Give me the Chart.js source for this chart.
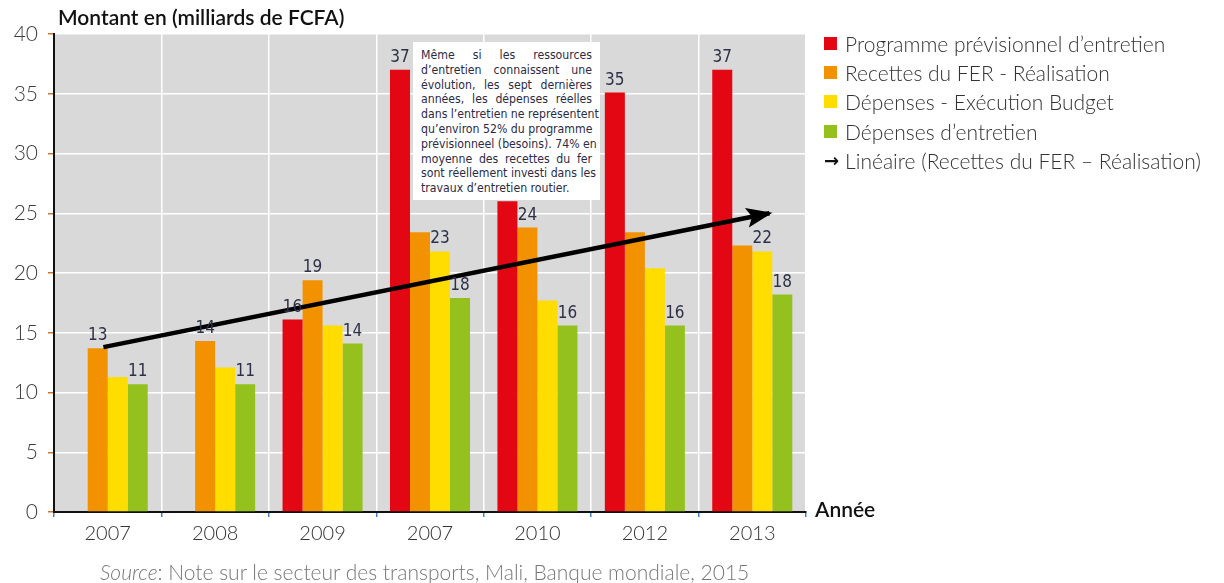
<!DOCTYPE html>
<html>
<head>
<meta charset="utf-8">
<script src="https://cdn.jsdelivr.net/npm/chart.js@4.4.1/dist/chart.umd.min.js"></script>
<style>
  html, body { margin: 0; padding: 0; background: #fff; }
  #wrap { position: relative; width: 1224px; height: 583px; font-family: Lato, sans-serif; }
  #c { position: absolute; left: 0; top: 0; }
  .txt { position: absolute; white-space: nowrap; line-height: 1; }
  #title { left: 58px; top: 6px; font-size: 21px; font-weight: 600; color: #111; }
  #annee { left: 815px; top: 498px; font-size: 21px; font-weight: 600; color: #111; }
  #source { left: 100px; top: 561px; font-size: 21px; font-weight: 300; color: #777; }
  #legend { position: absolute; left: 824px; top: 29px; font-size: 21px; font-weight: 300; color: #333; }
  #legend .row { height: 29.2px; display: flex; align-items: center; white-space: nowrap; }
  #legend .sw { width: 13px; height: 13px; margin-right: 8px; }
  #legend .arr { font-family: "DejaVu Sans", sans-serif; font-weight: bold; font-size: 18px; color: #111; margin-right: 6px; }
  #note { position: absolute; left: 413px; top: 42px; width: 171px; height: 150px; padding: 6px 8px 2px 8px;
          background: #fff; font-family: "Liberation Sans Narrow", "DejaVu Sans Condensed", sans-serif;
          font-size: 12.2px; line-height: 14.8px; color: #2b2b45; }
  #note div { text-align: justify; text-align-last: justify; white-space: nowrap; }
  #note div.last { text-align-last: left; }
</style>
</head>
<body>
<div id="wrap">
  <canvas id="c" width="1224" height="583"></canvas>
  <div class="txt" id="title">Montant en (milliards de FCFA)</div>
  <div class="txt" id="annee">Année</div>
  <div class="txt" id="source"><i>Source</i>: Note sur le secteur des transports, Mali, Banque mondiale, 2015</div>
  <div id="legend"></div>
  <div id="note">
    <div>Même si les ressources</div>
    <div>d’entretien connaissent une</div>
    <div>évolution, les sept dernières</div>
    <div>années, les dépenses réelles</div>
    <div>dans l’entretien ne représentent</div>
    <div>qu’environ 52% du programme</div>
    <div>prévisionneel (besoins). 74% en</div>
    <div>moyenne des recettes du fer</div>
    <div>sont réellement investi dans les</div>
    <div class="last">travaux d’entretien routier.</div>
  </div>
</div>
<script>
"use strict";

// categories (as printed on the source chart)
var years = ["2007", "2008", "2009", "2007", "2010", "2012", "2013"];

// series values, milliards de FCFA
var programme = [null, null, 16.1, 37.0, 26.0, 35.1, 37.0];
var recettes  = [13.7, 14.3, 19.4, 23.4, 23.8, 23.4, 22.3];
var depBudget = [11.3, 12.1, 15.6, 21.8, 17.7, 20.4, 21.8];
var depEntret = [10.7, 10.7, 14.1, 17.9, 15.6, 15.6, 18.2];

// value labels printed above bars
var lblProgramme = [null, null, "16", "37", null, "35", "37"];
var lblRecettes  = ["13", "14", "19", null, "24", null, null];
var lblBudget    = [null, null, null, "23", null, null, "22"];
var lblEntret    = ["11", "11", "14", "18", "16", "16", "18"];

// trend arrow endpoints (category index, value)
var trendX = [-0.04, 6.16];
var trendY = [13.8, 25.0];

var yTicks = [0, 5, 10, 15, 20, 25, 30, 35, 40];

var seriesNames = [
    "Programme prévisionnel d’entretien",
    "Recettes du FER - Réalisation",
    "Dépenses - Exécution Budget",
    "Dépenses d’entretien"
];
var trendName = "Linéaire (Recettes du FER – Réalisation)";
var colors = ["#e30613", "#f39200", "#ffdd00", "#95c11f"];

// html legend
var legend = document.getElementById("legend");
seriesNames.forEach(function (name, i) {
    var row = document.createElement("div");
    row.className = "row";
    row.innerHTML = '<span class="sw" style="background:' + colors[i] + '"></span><span>' + name + '</span>';
    legend.appendChild(row);
});
var trow = document.createElement("div");
trow.className = "row";
trow.innerHTML = '<span class="arr">→</span><span>' + trendName + '</span>';
legend.appendChild(trow);

var allLabels = [lblProgramme, lblRecettes, lblBudget, lblEntret];

var plotBg = {
    id: "plotBg",
    beforeDraw: function (chart) {
        var a = chart.chartArea, ctx = chart.ctx;
        ctx.save();
        ctx.fillStyle = "#d9d9d9";
        ctx.fillRect(a.left, a.top, a.right - a.left, a.bottom - a.top);
        ctx.restore();
    }
};

var barLabels = {
    id: "barLabels",
    afterDatasetsDraw: function (chart) {
        var ctx = chart.ctx;
        ctx.save();
        ctx.font = '17px "Liberation Sans Narrow", "DejaVu Sans Condensed", sans-serif';
        ctx.fillStyle = "#2d3047";
        ctx.textAlign = "center";
        ctx.textBaseline = "alphabetic";
        allLabels.forEach(function (lbls, di) {
            var meta = chart.getDatasetMeta(di);
            lbls.forEach(function (t, i) {
                if (!t) return;
                var el = meta.data[i];
                ctx.fillText(t, el.x, el.y - 8);
            });
        });
        ctx.restore();
    }
};

var arrowHead = {
    id: "arrowHead",
    afterDatasetsDraw: function (chart) {
        var meta = chart.getDatasetMeta(4);
        var p0 = meta.data[0], p1 = meta.data[meta.data.length - 1];
        var ang = Math.atan2(p1.y - p0.y, p1.x - p0.x);
        var len = 26, half = 10;
        var tx = p1.x + 3 * Math.cos(ang), ty = p1.y + 3 * Math.sin(ang);
        var ctx = chart.ctx;
        ctx.save();
        ctx.translate(tx, ty);
        ctx.rotate(ang);
        ctx.beginPath();
        ctx.moveTo(0, 0);
        ctx.lineTo(-len, -half);
        ctx.lineTo(-len * 0.8, 0);
        ctx.lineTo(-len, half);
        ctx.closePath();
        ctx.fillStyle = "#000";
        ctx.fill();
        ctx.restore();
    }
};

var barSets = [programme, recettes, depBudget, depEntret].map(function (vals, i) {
    return {
        type: "bar",
        label: seriesNames[i],
        data: vals,
        backgroundColor: colors[i],
        borderWidth: 0,
        barPercentage: 1,
        categoryPercentage: 0.745,
        order: 2
    };
});

// trend line sits on the category axis itself (fractional index, parsing off)
var trendSet = {
    type: "line",
    label: trendName,
    parsing: false,
    data: trendX.map(function (x, i) { return { x: x, y: trendY[i] }; }),
    borderColor: "#000",
    borderWidth: 4.5,
    pointRadius: 0,
    fill: false,
    tension: 0,
    order: 0
};

new Chart(document.getElementById("c"), {
    type: "bar",
    data: { labels: years, datasets: barSets.concat([trendSet]) },
    options: {
        responsive: false,
        animation: false,
        layout: { padding: { left: 0, top: 34, right: 418, bottom: 0 } },
        plugins: { legend: { display: false }, tooltip: { enabled: false } },
        scales: {
            x: {
                type: "category",
                afterFit: function (s) { s.height = 71; },
                grid: { color: "#ffffff", lineWidth: 1.5, offset: true, tickColor: "#3d85c6", tickLength: 5 },
                border: { color: "#111", width: 2 },
                ticks: { color: "#333", padding: 5, font: { family: "Lato", size: 20, weight: 300 } }
            },
            y: {
                min: 0,
                max: 40,
                afterFit: function (s) { s.width = 54; },
                afterBuildTicks: function (s) { s.ticks = yTicks.map(function (v) { return { value: v }; }); },
                grid: { color: "#ffffff", lineWidth: 1.5, tickColor: "#c8782c", tickLength: 6 },
                border: { color: "#111", width: 2 },
                ticks: { color: "#3c3c3c", padding: 10, font: { family: "Lato", size: 21, weight: 300 } }
            }
        }
    },
    plugins: [plotBg, barLabels, arrowHead]
});
</script>
</body>
</html>
